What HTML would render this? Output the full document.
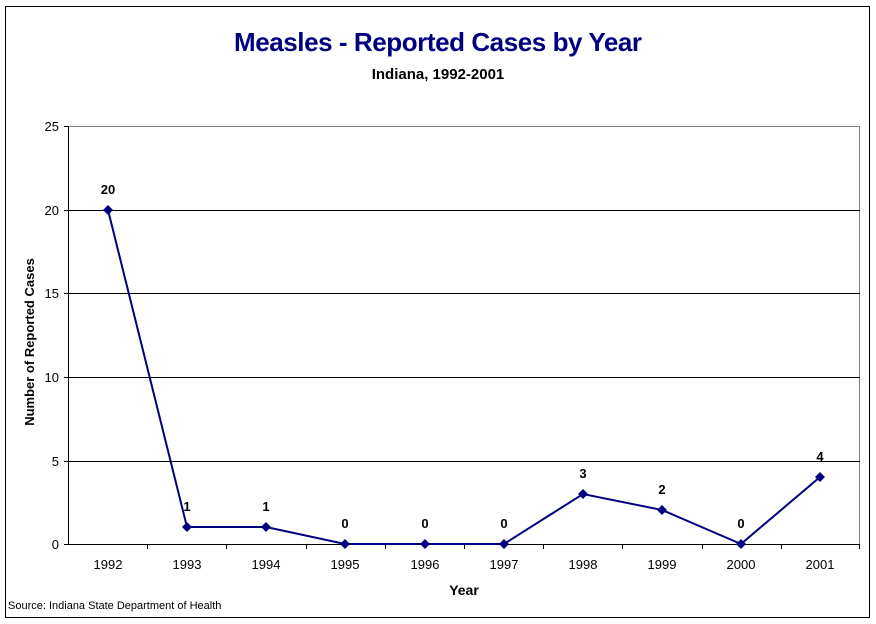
<!DOCTYPE html>
<html><head><style>body{margin:0;background:#fff}svg{display:block}</style></head><body>
<svg width="876" height="624" xmlns="http://www.w3.org/2000/svg" font-family="Liberation Sans, Arial, sans-serif">
<rect x="5.5" y="6.5" width="864" height="611" fill="#fff" stroke="#000" stroke-width="1"/>
<text x="438" y="51" text-anchor="middle" font-size="26" font-weight="bold" fill="#000080" textLength="408">Measles - Reported Cases by Year</text>
<text x="438" y="79" text-anchor="middle" font-size="15" font-weight="bold">Indiana, 1992-2001</text>
<rect x="68.5" y="126.5" width="791" height="418" fill="none" stroke="#808080"/>
<g stroke="#000" stroke-width="1">
<line x1="68" y1="210.5" x2="860" y2="210.5"/><line x1="68" y1="293.5" x2="860" y2="293.5"/>
<line x1="68" y1="377.5" x2="860" y2="377.5"/><line x1="68" y1="461.5" x2="860" y2="461.5"/>
<line x1="68.5" y1="126" x2="68.5" y2="545"/><line x1="64" y1="544.5" x2="860" y2="544.5"/>
<line x1="64" y1="126.5" x2="68" y2="126.5"/><line x1="64" y1="210.5" x2="68" y2="210.5"/><line x1="64" y1="293.5" x2="68" y2="293.5"/><line x1="64" y1="377.5" x2="68" y2="377.5"/><line x1="64" y1="461.5" x2="68" y2="461.5"/>
<line x1="147.5" y1="544" x2="147.5" y2="549"/><line x1="226.5" y1="544" x2="226.5" y2="549"/><line x1="306.5" y1="544" x2="306.5" y2="549"/><line x1="385.5" y1="544" x2="385.5" y2="549"/><line x1="464.5" y1="544" x2="464.5" y2="549"/><line x1="543.5" y1="544" x2="543.5" y2="549"/><line x1="622.5" y1="544" x2="622.5" y2="549"/><line x1="702.5" y1="544" x2="702.5" y2="549"/><line x1="781.5" y1="544" x2="781.5" y2="549"/><line x1="859.5" y1="544" x2="859.5" y2="549"/>
</g>
<g font-size="13" text-anchor="end">
<text x="59" y="131">25</text><text x="59" y="215">20</text><text x="59" y="298">15</text><text x="59" y="382">10</text><text x="59" y="466">5</text><text x="59" y="549">0</text>
</g>
<g font-size="13" text-anchor="middle">
<text x="108" y="569">1992</text><text x="187" y="569">1993</text><text x="266" y="569">1994</text><text x="345" y="569">1995</text><text x="425" y="569">1996</text><text x="504" y="569">1997</text><text x="583" y="569">1998</text><text x="662" y="569">1999</text><text x="741" y="569">2000</text><text x="820" y="569">2001</text>
</g>
<text x="464" y="595" text-anchor="middle" font-size="14" font-weight="bold">Year</text>
<text transform="translate(34,342) rotate(-90)" text-anchor="middle" font-size="13" font-weight="bold">Number of Reported Cases</text>
<text x="8" y="609" font-size="11">Source: Indiana State Department of Health</text>
<polyline fill="none" stroke="#000080" stroke-width="2" points="108,210 187,527 266,527 345,544 425,544 504,544 583,494 662,510 741,544 820,477"/>
<g fill="#000080">
<path d="M108,205l5,5l-5,5l-5,-5z"/><path d="M187,522l5,5l-5,5l-5,-5z"/><path d="M266,522l5,5l-5,5l-5,-5z"/><path d="M345,539l5,5l-5,5l-5,-5z"/><path d="M425,539l5,5l-5,5l-5,-5z"/><path d="M504,539l5,5l-5,5l-5,-5z"/><path d="M583,489l5,5l-5,5l-5,-5z"/><path d="M662,505l5,5l-5,5l-5,-5z"/><path d="M741,539l5,5l-5,5l-5,-5z"/><path d="M820,472l5,5l-5,5l-5,-5z"/>
</g>
<g font-size="13" font-weight="bold" text-anchor="middle">
<text x="108" y="194">20</text><text x="187" y="511">1</text><text x="266" y="511">1</text><text x="345" y="528">0</text><text x="425" y="528">0</text><text x="504" y="528">0</text><text x="583" y="478">3</text><text x="662" y="494">2</text><text x="741" y="528">0</text><text x="820" y="461">4</text>
</g>
</svg>
</body></html>
